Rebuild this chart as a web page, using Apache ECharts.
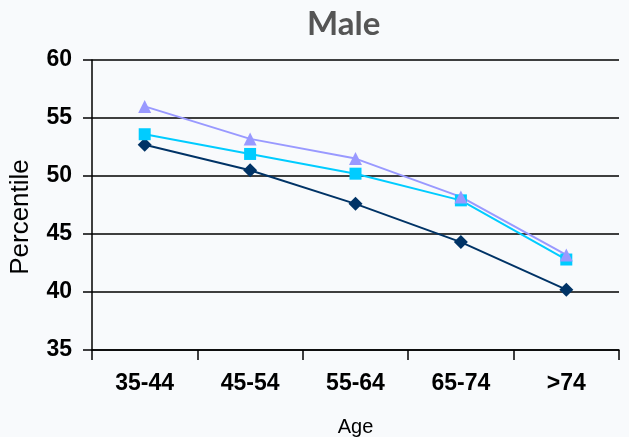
<!DOCTYPE html>
<html><head><meta charset="utf-8">
<script src="https://cdn.jsdelivr.net/npm/echarts@6/dist/echarts.min.js"></script>
<style>html,body{margin:0;padding:0;background:#f8fafc;}#c{width:629px;height:437px;}</style>
</head><body><div id="c"></div>
<script>
const categories = ['35-44','45-54','55-64','65-74','>74'];
const seriesDiamond = [52.7, 50.5, 47.6, 44.3, 40.2];
const seriesSquare = [53.6, 51.9, 50.2, 47.9, 42.8];
const seriesTriangle = [56.0, 53.2, 51.5, 48.2, 43.2];
const yTicks = [35, 40, 45, 50, 55, 60];

const chart = echarts.init(document.getElementById('c'));
chart.setOption({
  backgroundColor: '#f8fafc',
  animation: false,
  title: {text: 'Male', left: 302, top: 3,
    textStyle: {fontFamily: 'Lato', fontWeight: 'bold', fontSize: 33, color: '#555555'}},
  grid: {left: 92, right: 10, top: 60, bottom: 87, containLabel: false, outerBoundsMode: 'none'},
  xAxis: {
    type: 'category', data: categories, boundaryGap: true,
    name: 'Age', nameLocation: 'middle', nameGap: 67,
    nameTextStyle: {fontFamily: 'Liberation Sans', fontSize: 20, color: '#000'},
    axisLine: {lineStyle: {color: '#000', width: 1.5}},
    axisTick: {show: true, length: 10, lineStyle: {color: '#000', width: 1.5}},
    axisLabel: {margin: 22, fontFamily: 'Liberation Sans', fontWeight: 'bold', fontSize: 23, color: '#000'}
  },
  yAxis: {
    type: 'value', min: yTicks[0], max: yTicks[yTicks.length-1], interval: 5,
    name: 'Percentile', nameLocation: 'middle', nameGap: 58,
    nameTextStyle: {fontFamily: 'Liberation Sans', fontSize: 26, color: '#000', padding: [0, 24, 0, 0]},
    axisLine: {show: true, lineStyle: {color: '#000', width: 1.5}},
    axisTick: {show: true, length: 9, lineStyle: {color: '#000', width: 1.5}},
    axisLabel: {margin: 20, fontFamily: 'Liberation Sans', fontWeight: 'bold', fontSize: 23, color: '#000'},
    splitLine: {lineStyle: {color: '#000', width: 1.5}}
  },
  series: [
    {type: 'line', data: seriesDiamond, symbol: 'diamond', symbolSize: 14,
      lineStyle: {color: '#003366', width: 2}, itemStyle: {color: '#003366'}},
    {type: 'line', data: seriesSquare, symbol: 'rect', symbolSize: 12,
      lineStyle: {color: '#00ccff', width: 2}, itemStyle: {color: '#00ccff'}},
    {type: 'line', data: seriesTriangle, symbol: 'triangle', symbolSize: 13,
      lineStyle: {color: '#9999ff', width: 2}, itemStyle: {color: '#9999ff'}}
  ]
});
</script></body></html>
